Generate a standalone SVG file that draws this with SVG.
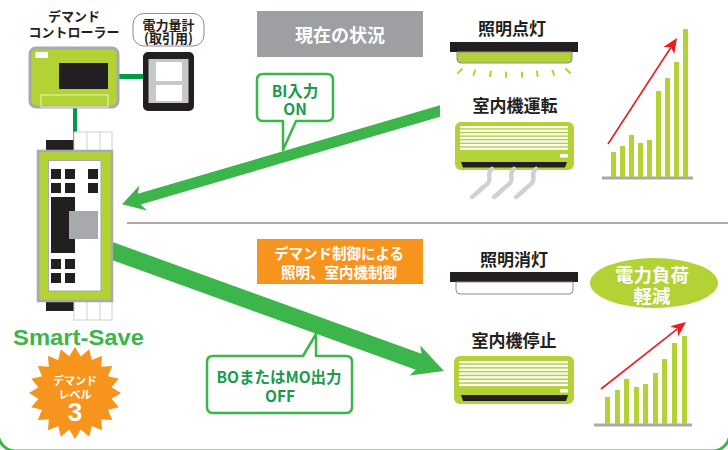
<svg xmlns="http://www.w3.org/2000/svg" width="728" height="450" viewBox="0 0 728 450">
  <style>
    .jp { font-family: "Noto Sans CJK JP", "Noto Sans", sans-serif; }
    .lbl { font-size: 17px; font-weight: bold; fill: #231f20; text-anchor: middle; }
    .small { font-size: 13px; font-weight: bold; fill: #231f20; text-anchor: middle; }
    .wt { fill: #ffffff; font-weight: bold; text-anchor: middle; }
    .gt { fill: #1b9a4b; font-weight: bold; text-anchor: middle; }
    .lime { fill: #b3d235; }
    .blk { fill: #231f20; }
    .bar { fill: #b3d235; }
    .base { stroke: #a7a9ac; stroke-width: 3; }
    .red { stroke: #ed1c24; stroke-width: 1.6; fill: none; }
    .redhead { fill: #ed1c24; }
    .callout { fill: #ffffff; stroke: #3cb54a; stroke-width: 2.5; stroke-linejoin: round; }
    .arrow { fill: #3cb54a; }
    .ray { stroke: #b3d235; stroke-width: 2; stroke-linecap: round; }
    .steam { stroke: #cfd0d2; stroke-width: 4.5; fill: none; stroke-linecap: round; }
    .stripe { fill: #ffffff; }
  </style>

  <!-- frame corners at the bottom edge -->
  <rect x="-2" y="-100" width="732" height="551" rx="18" fill="none" stroke="#3cb54a" stroke-width="3"/>

  <!-- connectors -->
  <g id="connectors">
    <line x1="118" y1="76.5" x2="145" y2="76.5" stroke="#009a44" stroke-width="5"/>
    <line x1="75" y1="106" x2="75" y2="141" stroke="#009a44" stroke-width="4"/>
    <!-- BI input arrow (equipment to Smart-Save) -->
    <polygon class="arrow" points="440,105.3 137.8,193.8 139.4,185.5 122,204.2 146.8,210.5 140.8,204.4 440,116.7"/>
    <!-- BO/MO output arrow (Smart-Save to equipment) -->
    <polygon class="arrow" points="105,239.3 421.5,353.8 420.3,345.4 444,371 409.4,375.5 415.7,369.8 105,257.4"/>
    <!-- divider -->
    <line x1="127" y1="223" x2="728" y2="223" stroke="#a7a9ac" stroke-width="2.2"/>
  </g>

  <!-- demand controller -->
  <g id="demand-controller">
    <text class="jp small" x="74" y="20.5">デマンド<tspan x="74" dy="16.5">コントローラー</tspan></text>
    <rect x="30" y="48" width="88" height="59" rx="6" class="lime" stroke="#a7a9ac" stroke-width="3"/>
    <rect x="35.5" y="52" width="12.5" height="6" fill="#ffffff"/>
    <rect x="59" y="63" width="49" height="26" class="blk"/>
    <rect x="41" y="95" width="67" height="12" fill="none" stroke="#eef5c8" stroke-width="1"/>
  </g>

  <!-- power meter -->
  <g id="power-meter">
    <rect x="133" y="13.5" width="71" height="32.5" rx="11" fill="#ffffff" stroke="#8a8c8e" stroke-width="1"/>
    <text class="jp small" x="168.5" y="29.5" font-size="12.5">電力量計<tspan x="168.5" dy="13.5">(取引用)</tspan></text>
    <rect x="143" y="52" width="51" height="59" rx="5" class="blk"/>
    <rect x="148.5" y="59" width="40" height="44" fill="#c7c8ca"/>
    <rect x="156" y="62" width="26" height="19" fill="#ffffff"/>
    <rect x="156" y="85" width="26" height="16" fill="#ffffff"/>
  </g>

  <!-- Smart-Save unit -->
  <g id="smart-save">
    <rect x="46" y="140" width="28" height="11" class="blk"/>
    <rect x="74" y="132" width="38" height="19" fill="#ffffff" stroke="#cfd0d2" stroke-width="1"/>
    <line x1="87" y1="132" x2="87" y2="151" stroke="#cfd0d2" stroke-width="1"/>
    <line x1="100" y1="132" x2="100" y2="151" stroke="#cfd0d2" stroke-width="1"/>
    <rect x="46" y="300" width="28" height="11" class="blk"/>
    <rect x="74" y="300" width="38" height="20" fill="#ffffff" stroke="#cfd0d2" stroke-width="1"/>
    <line x1="87" y1="300" x2="87" y2="320" stroke="#cfd0d2" stroke-width="1"/>
    <line x1="100" y1="300" x2="100" y2="320" stroke="#cfd0d2" stroke-width="1"/>
    <rect x="38" y="151" width="74" height="150" class="lime" stroke="#a7a9ac" stroke-width="2.5"/>
    <rect x="48.5" y="160.5" width="52.5" height="130.5" fill="#ffffff" stroke="#a7a9ac" stroke-width="1"/>
    <rect x="51" y="169" width="10" height="10" class="blk"/>
    <rect x="65" y="169" width="10" height="10" class="blk"/>
    <rect x="88" y="169" width="10" height="10" class="blk"/>
    <rect x="51" y="183" width="10" height="10" class="blk"/>
    <rect x="65" y="183" width="10" height="10" class="blk"/>
    <rect x="88" y="183" width="10" height="10" class="blk"/>
    <rect x="51" y="197" width="24" height="56" class="blk"/>
    <rect x="69" y="211" width="29" height="28" fill="#a7a9ac"/>
    <rect x="51" y="259" width="10" height="10" class="blk"/>
    <rect x="65" y="259" width="10" height="10" class="blk"/>
    <rect x="51" y="273" width="10" height="10" class="blk"/>
    <rect x="65" y="273" width="10" height="10" class="blk"/>
    <text x="13" y="345" font-family="'Liberation Sans', Arial, sans-serif" font-size="22" font-weight="bold" fill="#3cb54a" textLength="131" lengthAdjust="spacingAndGlyphs">Smart-Save</text>
  </g>

  <!-- demand level badge -->
  <g id="demand-level">
    <polygon fill="#f7941d" points="75,347 80.79,356.46 89.21,349.25 91.8,360.03 102.04,355.79 101.16,366.84 112.21,365.96 107.97,376.2 118.75,378.79 111.54,387.21 121,393 111.54,398.79 118.75,407.21 107.97,409.8 112.21,420.04 101.16,419.16 102.04,430.21 91.8,425.97 89.21,436.75 80.79,429.54 75,439 69.21,429.54 60.79,436.75 58.2,425.97 47.96,430.21 48.84,419.16 37.79,420.04 42.03,409.8 31.25,407.21 38.46,398.79 29,393 38.46,387.21 31.25,378.79 42.03,376.2 37.79,365.96 48.84,366.84 47.96,355.79 58.2,360.03 60.79,349.25 69.21,356.46"/>
    <text class="jp wt" x="75" y="385" font-size="11">デマンド<tspan x="75" dy="13.5">レベル</tspan><tspan x="75" dy="22.5" font-family="'Liberation Sans', Arial, sans-serif" font-size="26">3</tspan></text>
  </g>

  <!-- section title -->
  <g id="current-status">
    <rect x="257" y="11" width="166" height="46" fill="#9d9fa2"/>
    <text class="jp wt" x="340" y="42" font-size="18">現在の状況</text>
  </g>

  <!-- BI input callout -->
  <g id="bi-input">
    <path class="callout" d="M263,74 H327 Q333,74 333,80 V115 Q333,121 327,121 H296 L283,150 L283,121 H263 Q257,121 257,115 V80 Q257,74 263,74 Z"/>
    <text class="jp gt" x="295" y="96.5" font-size="15.5">BI入力<tspan x="295" dy="18.5">ON</tspan></text>
  </g>

  <!-- demand control label -->
  <g id="demand-control">
    <rect x="257" y="239" width="166" height="45" fill="#f7941d"/>
    <text class="jp wt" x="339" y="258.5" font-size="14.5">デマンド制御による<tspan x="339" dy="19.5">照明、室内機制御</tspan></text>
  </g>

  <!-- BO/MO output callout -->
  <g id="bo-output">
    <path class="callout" d="M213,356 H303 L316,334 L316,356 H346 Q352,356 352,362 V407 Q352,413 346,413 H213 Q207,413 207,407 V362 Q207,356 213,356 Z"/>
    <text class="jp gt" x="279" y="383" font-size="15.5">BOまたはMO出力<tspan x="280" dy="19">OFF</tspan></text>
  </g>

  <!-- lighting on -->
  <g id="light-on">
    <text class="jp lbl" x="512" y="35">照明点灯</text>
    <rect x="450" y="42" width="128" height="10" class="blk"/>
    <path d="M457,52 H572 V59 Q572,63 568,63 H461 Q457,63 457,59 Z" class="lime" stroke="#8a8c8e" stroke-width="1"/>
    <line class="ray" x1="458" y1="73" x2="462" y2="69"/>
    <line class="ray" x1="473.5" y1="75" x2="475" y2="70.5"/>
    <line class="ray" x1="490" y1="76" x2="490.7" y2="71.5"/>
    <line class="ray" x1="506" y1="77" x2="506" y2="72.5"/>
    <line class="ray" x1="522" y1="77" x2="522" y2="72.5"/>
    <line class="ray" x1="537.6" y1="76" x2="537" y2="71.5"/>
    <line class="ray" x1="554" y1="75" x2="552.5" y2="70.5"/>
    <line class="ray" x1="570" y1="73" x2="566" y2="69"/>
  </g>

  <!-- indoor unit running -->
  <g id="ac-running">
    <text class="jp lbl" x="515" y="112" font-size="18">室内機運転</text>
    <rect x="455" y="122" width="119" height="48" rx="6" class="lime"/>
    <rect class="stripe" x="460" y="126" width="108" height="2.2"/>
    <rect class="stripe" x="460" y="129.6" width="108" height="2.2"/>
    <rect class="stripe" x="460" y="133.2" width="108" height="2.2"/>
    <rect class="stripe" x="460" y="136.8" width="108" height="2.2"/>
    <rect class="stripe" x="460" y="140.4" width="108" height="2.2"/>
    <rect class="stripe" x="460" y="144" width="108" height="2.2"/>
    <rect class="stripe" x="460" y="147.6" width="108" height="2.2"/>
    <rect x="560" y="154" width="8" height="3.5" fill="#ffffff"/>
    <path d="M461,162 H567 L565,167.5 H463 Z" class="blk"/>
    <path class="steam" d="M492,169 C485,174 494,179 486,185 C479,190 478,193 472,197"/>
    <path class="steam" d="M514,169 C507,174 516,179 508,185 C501,190 500,193 494,197"/>
    <path class="steam" d="M536,169 C529,174 538,179 530,185 C523,190 522,193 516,197"/>
  </g>

  <!-- demand chart (rising) -->
  <g id="chart-rising">
    <line class="base" x1="602" y1="178" x2="693" y2="178"/>
    <rect class="bar" x="611" y="152" width="5" height="25"/>
    <rect class="bar" x="620" y="146" width="5" height="31"/>
    <rect class="bar" x="629" y="135" width="5" height="42"/>
    <rect class="bar" x="638" y="143" width="5" height="34"/>
    <rect class="bar" x="647" y="140" width="5" height="37"/>
    <rect class="bar" x="656" y="91" width="5" height="86"/>
    <rect class="bar" x="665" y="78" width="5" height="99"/>
    <rect class="bar" x="674" y="62" width="5" height="115"/>
    <rect class="bar" x="683" y="29" width="5" height="148"/>
    <line class="red" x1="608" y1="144" x2="671" y2="47.2"/>
    <polygon class="redhead" points="677,38 674.3,54.1 671,47.2 663.4,47"/>
  </g>

  <!-- lighting off -->
  <g id="light-off">
    <text class="jp lbl" x="514" y="266" font-size="18">照明消灯</text>
    <rect x="450" y="272" width="128" height="10" class="blk"/>
    <path d="M456,282 H573 V290 Q573,294 569,294 H460 Q456,294 456,290 Z" fill="#ffffff" stroke="#8a8c8e" stroke-width="1"/>
  </g>

  <!-- load reduction -->
  <g id="load-reduction">
    <ellipse cx="654" cy="283" rx="64" ry="25" class="lime"/>
    <text class="jp wt" x="652" y="282" font-size="18.5">電力負荷<tspan x="652" dy="21">軽減</tspan></text>
  </g>

  <!-- indoor unit stopped -->
  <g id="ac-stopped">
    <text class="jp lbl" x="514" y="347" font-size="18">室内機停止</text>
    <rect x="454" y="356" width="120" height="48" rx="6" class="lime"/>
    <rect class="stripe" x="459" y="361" width="109" height="2.3"/>
    <rect class="stripe" x="459" y="364.8" width="109" height="2.3"/>
    <rect class="stripe" x="459" y="368.6" width="109" height="2.3"/>
    <rect class="stripe" x="459" y="372.4" width="109" height="2.3"/>
    <rect class="stripe" x="459" y="376.2" width="109" height="2.3"/>
    <rect class="stripe" x="459" y="380" width="109" height="2.3"/>
    <rect class="stripe" x="459" y="383.8" width="109" height="2.3"/>
    <rect x="560" y="389" width="8" height="3.5" fill="#ffffff"/>
    <path d="M461,395 H568 L566,401 H463 Z" class="blk"/>
  </g>

  <!-- demand chart (reduced) -->
  <g id="chart-reduced">
    <line class="base" x1="594" y1="425" x2="692" y2="425"/>
    <rect class="bar" x="605" y="397" width="5" height="27"/>
    <rect class="bar" x="615" y="390" width="5" height="34"/>
    <rect class="bar" x="624" y="379" width="5" height="45"/>
    <rect class="bar" x="634" y="387" width="5" height="37"/>
    <rect class="bar" x="643" y="384" width="5" height="40"/>
    <rect class="bar" x="653" y="373" width="5" height="51"/>
    <rect class="bar" x="662" y="359" width="5" height="65"/>
    <rect class="bar" x="672" y="343" width="5" height="81"/>
    <rect class="bar" x="682" y="336" width="5" height="88"/>
    <line class="red" x1="601" y1="389" x2="677.4" y2="328.8"/>
    <polygon class="redhead" points="686,322 678.2,336.4 677.4,328.8 670.2,326.2"/>
  </g>
</svg>
